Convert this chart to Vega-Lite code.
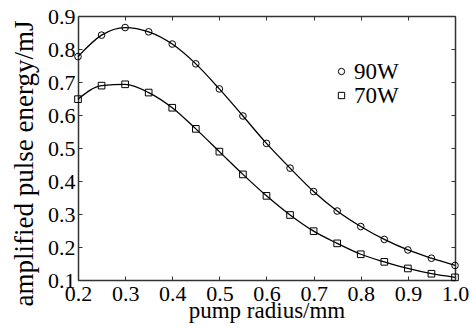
{
  "$schema": "https://vega.github.io/schema/vega-lite/v6.json",
  "width": 377,
  "height": 264,
  "autosize": "none",
  "padding": {"left": 78, "top": 16, "right": 18, "bottom": 49},
  "background": "white",
  "config": {
    "view": {"stroke": null},
    "font": "Liberation Serif"
  },
  "data": {
    "values": [
      {"r": 0.20, "E": 0.777, "P": "90W"},
      {"r": 0.25, "E": 0.842, "P": "90W"},
      {"r": 0.30, "E": 0.865, "P": "90W"},
      {"r": 0.35, "E": 0.852, "P": "90W"},
      {"r": 0.40, "E": 0.815, "P": "90W"},
      {"r": 0.45, "E": 0.755, "P": "90W"},
      {"r": 0.50, "E": 0.679, "P": "90W"},
      {"r": 0.55, "E": 0.597, "P": "90W"},
      {"r": 0.60, "E": 0.514, "P": "90W"},
      {"r": 0.65, "E": 0.439, "P": "90W"},
      {"r": 0.70, "E": 0.368, "P": "90W"},
      {"r": 0.75, "E": 0.309, "P": "90W"},
      {"r": 0.80, "E": 0.262, "P": "90W"},
      {"r": 0.85, "E": 0.223, "P": "90W"},
      {"r": 0.90, "E": 0.191, "P": "90W"},
      {"r": 0.95, "E": 0.166, "P": "90W"},
      {"r": 1.00, "E": 0.144, "P": "90W"},
      {"r": 0.20, "E": 0.648, "P": "70W"},
      {"r": 0.25, "E": 0.689, "P": "70W"},
      {"r": 0.30, "E": 0.693, "P": "70W"},
      {"r": 0.35, "E": 0.668, "P": "70W"},
      {"r": 0.40, "E": 0.622, "P": "70W"},
      {"r": 0.45, "E": 0.558, "P": "70W"},
      {"r": 0.50, "E": 0.489, "P": "70W"},
      {"r": 0.55, "E": 0.420, "P": "70W"},
      {"r": 0.60, "E": 0.355, "P": "70W"},
      {"r": 0.65, "E": 0.297, "P": "70W"},
      {"r": 0.70, "E": 0.248, "P": "70W"},
      {"r": 0.75, "E": 0.211, "P": "70W"},
      {"r": 0.80, "E": 0.178, "P": "70W"},
      {"r": 0.85, "E": 0.155, "P": "70W"},
      {"r": 0.90, "E": 0.135, "P": "70W"},
      {"r": 0.95, "E": 0.119, "P": "70W"},
      {"r": 1.00, "E": 0.108, "P": "70W"}
    ]
  },
  "layer": [
    {
      "mark": {"type": "line", "interpolate": "monotone", "color": "black", "strokeWidth": 1.3},
      "encoding": {
        "x": {
          "field": "r", "type": "quantitative",
          "scale": {"domain": [0.2, 1.0], "nice": false, "zero": false},
          "axis": {"orient": "bottom", "values": [0.2, 0.3, 0.4, 0.5, 0.6, 0.7, 0.8, 0.9, 1.0], "format": ".1f",
            "labelFont": "Liberation Serif", "labelFontSize": 22, "labelColor": "black",
            "titleFont": "Liberation Serif", "titleFontSize": 23, "titleColor": "black", "titleFontWeight": "normal",
            "domainColor": "#333", "domainWidth": 1.5, "tickColor": "#333", "tickSize": -4, "grid": false,
            "labelPadding": 7, "title": "pump radius/mm", "titleY": 37, "titleBaseline": "alphabetic",
            "labelFlush": false, "labelOverlap": false}
        },
        "y": {
          "field": "E", "type": "quantitative",
          "scale": {"domain": [0.1, 0.9], "nice": false, "zero": false},
          "axis": {"orient": "left", "values": [0.1, 0.2, 0.3, 0.4, 0.5, 0.6, 0.7, 0.8, 0.9], "format": ".1f",
            "labelFont": "Liberation Serif", "labelFontSize": 22, "labelColor": "black",
            "titleFont": "Liberation Serif", "titleFontSize": 27, "titleColor": "black", "titleFontWeight": "normal",
            "domainColor": "#333", "domainWidth": 1.5, "tickColor": "#333", "tickSize": -4, "grid": false,
            "labelPadding": 7, "title": "amplified pulse energy/mJ",
            "titleX": -46, "titleY": 147, "titleAngle": -90, "titleAlign": "center", "titleBaseline": "alphabetic",
            "labelFlush": false, "labelOverlap": false}
        },
        "detail": {"field": "P"}
      }
    },
    {
      "mark": {"type": "point", "filled": false, "color": "black", "strokeWidth": 1, "opacity": 1, "size": 44},
      "encoding": {
        "x": {
          "field": "r", "type": "quantitative",
          "axis": {"orient": "top", "values": [0.2, 0.3, 0.4, 0.5, 0.6, 0.7, 0.8, 0.9, 1.0], "labels": false, "title": null,
            "domainColor": "#333", "domainWidth": 1.5, "tickColor": "#333", "tickSize": -4, "grid": false}
        },
        "y": {
          "field": "E", "type": "quantitative",
          "axis": {"orient": "right", "values": [0.1, 0.2, 0.3, 0.4, 0.5, 0.6, 0.7, 0.8, 0.9], "labels": false, "title": null,
            "domainColor": "#333", "domainWidth": 1.5, "tickColor": "#333", "tickSize": -4, "grid": false}
        },
        "shape": {
          "field": "P", "type": "nominal",
          "scale": {"domain": ["90W", "70W"], "range": ["circle", "square"]},
          "legend": {
            "orient": "none", "legendX": 252, "legendY": 44, "title": null,
            "labelFont": "Liberation Serif", "labelFontSize": 23, "labelColor": "black",
            "symbolSize": 40, "symbolStrokeColor": "black", "symbolStrokeWidth": 1, "symbolFillColor": "white",
            "labelOffset": 1, "rowPadding": 0, "padding": 0
          }
        }
      }
    }
  ],
  "resolve": {"axis": {"x": "independent", "y": "independent"}}
}
